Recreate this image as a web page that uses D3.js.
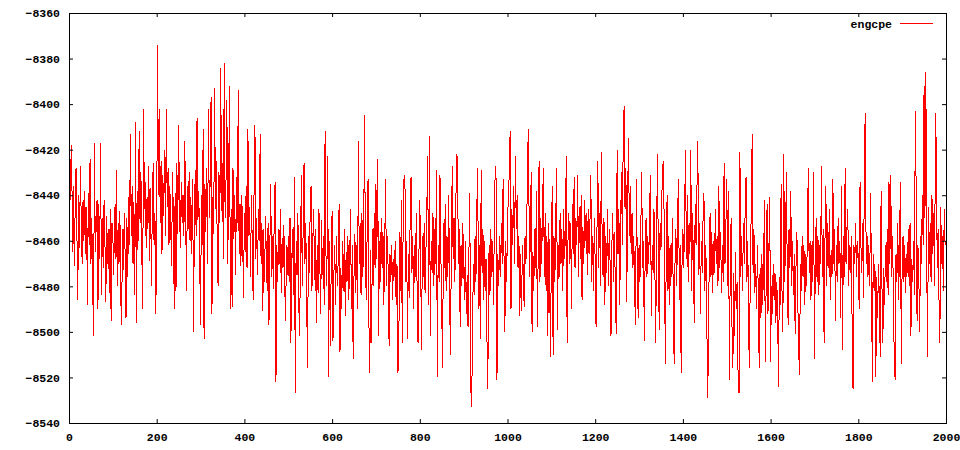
<!DOCTYPE html>
<html><head><meta charset="utf-8">
<script src="https://cdn.jsdelivr.net/npm/d3@7"></script>
<style>
html,body{margin:0;padding:0;background:#fff;}
svg text{font-family:"Liberation Mono","DejaVu Sans Mono",monospace;font-weight:bold;font-size:11.5px;fill:#000;}
</style></head>
<body><svg id="chart" width="960" height="450"></svg>
<script>
const seriesName = "engcpe";
const stepSize = 2;
const xTickVals = [0,200,400,600,800,1000,1200,1400,1600,1800,2000];
const yTickVals = [-8540,-8520,-8500,-8480,-8460,-8440,-8420,-8400,-8380,-8360];

const seg00 = [-8407,-8445,-8427,-8418,-8465,-8436,-8471,-8447,-8428,-8456,-8486,-8440,-8463,-8427,-8452,-8470,-8442,-8460,-8438,-8466,-8445,-8488,-8439,-8462,-8424,-8470,-8450,-8480,-8502,-8417,-8465,-8454,-8442,-8490,-8444,-8468,-8417,-8484,-8450,-8472,-8442,-8461,-8487,-8449,-8470,-8455,-8483,-8446,-8495,-8452];
const seg01 = [-8458,-8475,-8445,-8468,-8429,-8480,-8452,-8470,-8447,-8485,-8497,-8455,-8473,-8448,-8466,-8494,-8450,-8476,-8441,-8462,-8413,-8458,-8436,-8470,-8443,-8484,-8408,-8496,-8438,-8460,-8412,-8452,-8430,-8464,-8490,-8402,-8446,-8434,-8463,-8441,-8455,-8427,-8469,-8437,-8480,-8445,-8426,-8462,-8448,-8492];
const seg02 = [-8455,-8374,-8440,-8402,-8452,-8425,-8466,-8431,-8449,-8420,-8458,-8402,-8445,-8428,-8462,-8436,-8454,-8471,-8430,-8448,-8490,-8439,-8482,-8426,-8457,-8409,-8446,-8463,-8434,-8452,-8440,-8458,-8416,-8447,-8482,-8436,-8455,-8430,-8460,-8441,-8466,-8433,-8500,-8448,-8429,-8458,-8406,-8451,-8438,-8468];
const seg03 = [-8497,-8440,-8462,-8411,-8503,-8435,-8456,-8428,-8470,-8402,-8450,-8433,-8397,-8492,-8441,-8457,-8393,-8446,-8425,-8461,-8480,-8430,-8452,-8384,-8447,-8426,-8468,-8382,-8450,-8435,-8398,-8470,-8438,-8392,-8490,-8446,-8489,-8428,-8459,-8440,-8475,-8432,-8452,-8394,-8466,-8444,-8471,-8440,-8458,-8485];
const seg04 = [-8448,-8465,-8436,-8472,-8411,-8458,-8445,-8476,-8440,-8462,-8486,-8438,-8409,-8468,-8450,-8475,-8446,-8460,-8413,-8470,-8452,-8491,-8455,-8478,-8449,-8466,-8482,-8452,-8497,-8463,-8435,-8476,-8458,-8481,-8450,-8434,-8522,-8462,-8478,-8455,-8470,-8446,-8483,-8459,-8472,-8453,-8480,-8495,-8462,-8475];
const seg05 = [-8458,-8478,-8450,-8505,-8470,-8455,-8484,-8432,-8527,-8460,-8475,-8448,-8488,-8502,-8462,-8431,-8480,-8455,-8426,-8470,-8452,-8486,-8516,-8458,-8474,-8447,-8436,-8482,-8460,-8446,-8477,-8455,-8496,-8462,-8483,-8446,-8470,-8492,-8451,-8475,-8458,-8488,-8412,-8466,-8480,-8423,-8520,-8460,-8506,-8470];
const seg06 = [-8447,-8504,-8475,-8462,-8488,-8458,-8480,-8468,-8444,-8509,-8472,-8490,-8460,-8482,-8455,-8493,-8465,-8478,-8458,-8486,-8470,-8446,-8490,-8462,-8512,-8475,-8457,-8483,-8462,-8490,-8416,-8470,-8452,-8484,-8448,-8476,-8458,-8405,-8470,-8486,-8455,-8433,-8496,-8518,-8464,-8505,-8455,-8480,-8448,-8472];
const seg07 = [-8435,-8468,-8424,-8502,-8460,-8478,-8450,-8472,-8456,-8488,-8462,-8433,-8480,-8458,-8474,-8506,-8466,-8478,-8462,-8486,-8468,-8476,-8460,-8488,-8470,-8518,-8512,-8456,-8482,-8442,-8505,-8454,-8433,-8431,-8478,-8460,-8503,-8466,-8485,-8450,-8432,-8474,-8458,-8490,-8462,-8476,-8448,-8484,-8505,-8466];
const seg08 = [-8442,-8470,-8508,-8458,-8476,-8452,-8483,-8464,-8446,-8423,-8488,-8414,-8502,-8460,-8474,-8448,-8480,-8455,-8470,-8429,-8520,-8462,-8478,-8431,-8466,-8490,-8516,-8452,-8472,-8444,-8482,-8458,-8476,-8440,-8486,-8510,-8462,-8427,-8468,-8450,-8478,-8446,-8422,-8424,-8470,-8455,-8498,-8462,-8480,-8452];
const seg09 = [-8470,-8486,-8460,-8492,-8475,-8498,-8466,-8439,-8523,-8533,-8508,-8470,-8484,-8458,-8478,-8446,-8428,-8490,-8462,-8503,-8429,-8474,-8455,-8486,-8460,-8482,-8468,-8525,-8508,-8462,-8484,-8455,-8476,-8460,-8488,-8452,-8427,-8433,-8521,-8466,-8480,-8458,-8476,-8452,-8470,-8433,-8466,-8500,-8460,-8478];
const seg10 = [-8452,-8440,-8431,-8412,-8490,-8446,-8462,-8436,-8470,-8423,-8455,-8440,-8472,-8458,-8493,-8466,-8491,-8462,-8474,-8489,-8458,-8470,-8452,-8420,-8411,-8476,-8460,-8430,-8500,-8465,-8482,-8455,-8472,-8438,-8498,-8466,-8425,-8478,-8450,-8470,-8442,-8428,-8476,-8448,-8482,-8458,-8502,-8452,-8474,-8511];
const seg11 = [-8466,-8436,-8510,-8458,-8478,-8450,-8428,-8499,-8462,-8476,-8448,-8470,-8455,-8482,-8446,-8468,-8458,-8423,-8505,-8460,-8448,-8470,-8452,-8490,-8444,-8466,-8432,-8472,-8450,-8462,-8431,-8476,-8445,-8468,-8440,-8486,-8454,-8470,-8442,-8460,-8448,-8475,-8446,-8466,-8452,-8431,-8478,-8458,-8482,-8450];
const seg12 = [-8470,-8498,-8456,-8425,-8472,-8448,-8480,-8421,-8462,-8476,-8450,-8488,-8458,-8474,-8446,-8480,-8455,-8470,-8502,-8462,-8448,-8478,-8456,-8482,-8501,-8420,-8466,-8446,-8488,-8452,-8430,-8462,-8412,-8401,-8446,-8428,-8487,-8440,-8415,-8458,-8436,-8466,-8448,-8472,-8458,-8484,-8497,-8433,-8470,-8494];
const seg13 = [-8462,-8478,-8455,-8430,-8472,-8460,-8504,-8466,-8450,-8476,-8458,-8470,-8448,-8431,-8493,-8462,-8474,-8446,-8470,-8505,-8458,-8422,-8468,-8499,-8452,-8464,-8440,-8427,-8425,-8470,-8514,-8466,-8440,-8482,-8458,-8488,-8462,-8476,-8450,-8484,-8514,-8470,-8455,-8480,-8448,-8433,-8486,-8462,-8518,-8470];
const seg14 = [-8455,-8472,-8446,-8420,-8468,-8440,-8478,-8452,-8466,-8420,-8482,-8448,-8470,-8496,-8444,-8462,-8438,-8416,-8475,-8452,-8492,-8460,-8474,-8450,-8439,-8482,-8462,-8478,-8529,-8514,-8468,-8448,-8476,-8456,-8483,-8460,-8474,-8446,-8470,-8458,-8480,-8436,-8472,-8456,-8483,-8462,-8478,-8426,-8470,-8454];
const seg15 = [-8433,-8480,-8438,-8521,-8470,-8450,-8498,-8516,-8474,-8502,-8465,-8490,-8478,-8524,-8527,-8421,-8476,-8458,-8482,-8452,-8470,-8446,-8432,-8478,-8460,-8503,-8516,-8462,-8448,-8413,-8474,-8455,-8483,-8470,-8490,-8462,-8484,-8516,-8472,-8494,-8466,-8488,-8470,-8442,-8513,-8476,-8444,-8492,-8466,-8441];
const seg16 = [-8513,-8480,-8492,-8470,-8486,-8474,-8496,-8478,-8490,-8524,-8476,-8488,-8435,-8482,-8500,-8422,-8478,-8462,-8430,-8474,-8497,-8455,-8472,-8438,-8480,-8460,-8484,-8466,-8501,-8470,-8456,-8486,-8508,-8519,-8470,-8482,-8458,-8476,-8462,-8488,-8466,-8480,-8455,-8428,-8474,-8460,-8486,-8462,-8478,-8430];
const seg17 = [-8512,-8468,-8450,-8478,-8458,-8484,-8462,-8470,-8427,-8476,-8455,-8505,-8460,-8436,-8480,-8452,-8472,-8446,-8486,-8464,-8476,-8433,-8470,-8455,-8495,-8462,-8478,-8450,-8470,-8460,-8494,-8436,-8508,-8458,-8476,-8428,-8470,-8455,-8446,-8480,-8462,-8474,-8458,-8499,-8525,-8462,-8470,-8452,-8476,-8460];
const seg18 = [-8468,-8490,-8434,-8462,-8474,-8452,-8485,-8418,-8404,-8470,-8458,-8476,-8462,-8480,-8439,-8474,-8522,-8466,-8482,-8470,-8520,-8476,-8494,-8470,-8486,-8511,-8438,-8480,-8505,-8472,-8488,-8462,-8478,-8455,-8484,-8434,-8470,-8431,-8476,-8458,-8482,-8513,-8521,-8466,-8478,-8452,-8486,-8462,-8434,-8514];
const seg19 = [-8470,-8458,-8478,-8462,-8483,-8466,-8474,-8455,-8480,-8452,-8502,-8468,-8478,-8460,-8484,-8403,-8438,-8495,-8462,-8476,-8500,-8458,-8470,-8440,-8462,-8392,-8450,-8386,-8468,-8511,-8445,-8470,-8452,-8478,-8440,-8466,-8448,-8480,-8404,-8421,-8472,-8455,-8485,-8505,-8445,-8470,-8458,-8482,-8446,-8462];

const values = [].concat(seg00,seg01,seg02,seg03,seg04,seg05,seg06,seg07,seg08,seg09,
                         seg10,seg11,seg12,seg13,seg14,seg15,seg16,seg17,seg18,seg19);
const data = values.map((v,i)=>({x:i*stepSize, y:v}));

const svg = d3.select("#chart");
const L=69, R=946, T=13, B=423;
const x = d3.scaleLinear().domain([0,2000]).range([L,R]);
const y = d3.scaleLinear().domain([-8540,-8360]).range([B,T]);

// data line
const line = d3.line().x(d=>x(d.x)).y(d=>y(d.y));
svg.append("path").datum(data)
  .attr("d", line).attr("fill","none").attr("stroke","#ff0000").attr("stroke-width",1)
  .attr("shape-rendering","crispEdges");

// axes
const ax = (g)=>{ g.select(".domain").remove(); g.selectAll(".tick line").attr("stroke","#000"); };
svg.append("g").attr("transform",`translate(${L},0)`)
  .call(d3.axisLeft(y).tickValues(yTickVals).tickSize(-4).tickPadding(9).tickFormat(d3.format("d")))
  .call(ax).selectAll("text").attr("font-family",null).attr("font-size",null).attr("dy","0.32em");
svg.append("g").attr("transform",`translate(${R},0)`)
  .call(d3.axisRight(y).tickValues(yTickVals).tickSize(-4).tickFormat(""))
  .call(ax);
svg.append("g").attr("transform",`translate(0,${B})`)
  .call(d3.axisBottom(x).tickValues(xTickVals).tickSize(-4).tickPadding(10).tickFormat(d3.format("d")))
  .call(ax).selectAll("text").attr("font-family",null).attr("font-size",null);
svg.append("g").attr("transform",`translate(0,${T})`)
  .call(d3.axisTop(x).tickValues(xTickVals).tickSize(-4).tickFormat(""))
  .call(ax);
svg.selectAll("g").attr("font-family",null).attr("font-size",null);

// border
svg.append("rect").attr("x",L+0.5).attr("y",T+0.5).attr("width",R-L).attr("height",B-T)
  .attr("fill","none").attr("stroke","#000").attr("stroke-width",1);

// legend
svg.append("text").attr("x",892).attr("y",27.5).attr("text-anchor","end").text(seriesName);
svg.append("line").attr("x1",900).attr("x2",933).attr("y1",23.5).attr("y2",23.5)
  .attr("stroke","#ff0000").attr("stroke-width",1);
</script></body></html>
